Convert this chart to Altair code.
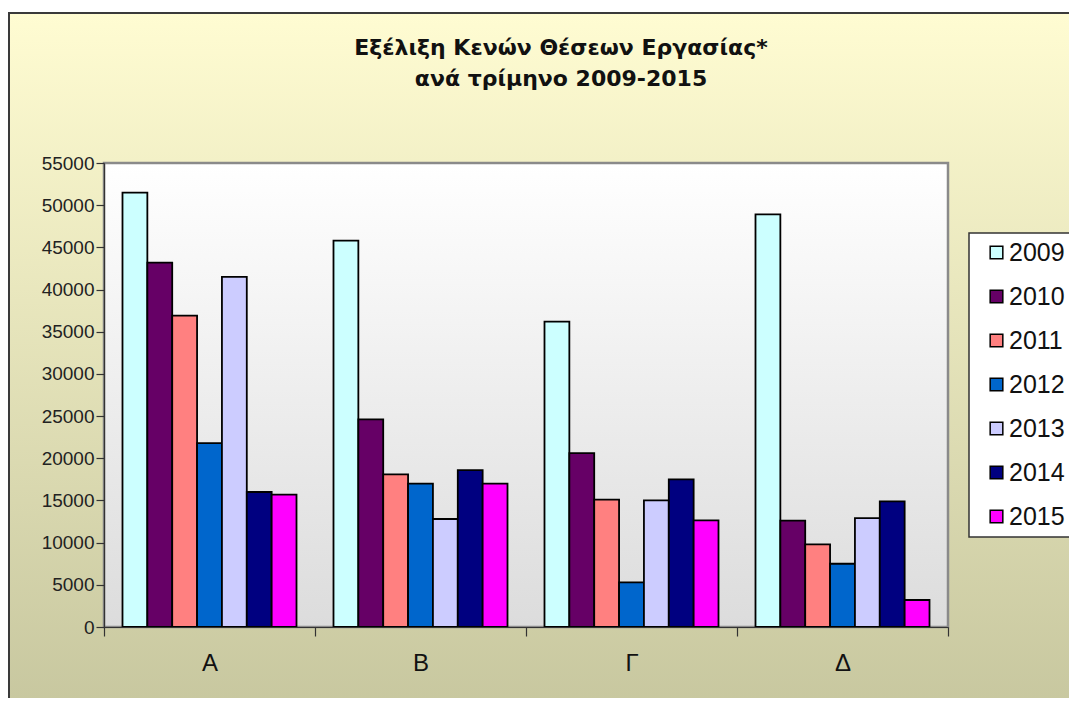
import altair as alt
import pandas as pd

quarters = ["Α", "Β", "Γ", "Δ"]
years = ["2009", "2010", "2011", "2012", "2013", "2014", "2015"]
colors = ["#CCFFFF", "#660066", "#FF8080", "#0066CC", "#CCCCFF", "#000080", "#FF00FF"]

vals_A = [51500, 43200, 36900, 21800, 41500, 16000, 15700]
vals_B = [45800, 24600, 18100, 17000, 12800, 18600, 17000]
vals_G = [36200, 20600, 15100, 5300, 15000, 17500, 12650]
vals_D = [48900, 12600, 9800, 7500, 12900, 14900, 3200]

y_ticks = [0, 5000, 10000, 15000, 20000, 25000, 30000, 35000, 40000, 45000, 50000, 55000]

title_lines = ["Εξέλιξη Κενών Θέσεων Εργασίας*", "ανά τρίμηνο 2009-2015"]

rows = []
for q, vals in zip(quarters, [vals_A, vals_B, vals_G, vals_D]):
    for yr, v in zip(years, vals):
        rows.append({"q": q, "year": yr, "value": v})
df = pd.DataFrame(rows)

FONT = "Liberation Sans"
TFONT = "DejaVu Sans"
W, H = 844, 464

one = alt.Data(values=[{}])

outer_bg = alt.Chart(one).mark_rect(
    fill={"gradient": "linear", "x1": 0, "y1": 0, "x2": 0, "y2": 1,
          "stops": [{"offset": 0, "color": "#FFFCD2"}, {"offset": 1, "color": "#C3C39B"}]},
    stroke="#3a3a3a", strokeWidth=2,
).encode(x=alt.value(-95), x2=alt.value(1000), y=alt.value(-150), y2=alt.value(600))

plot_bg = alt.Chart(one).mark_rect(
    fill={"gradient": "linear", "x1": 0, "y1": 0, "x2": 0, "y2": 1,
          "stops": [{"offset": 0, "color": "#FFFFFF"}, {"offset": 1, "color": "#DCDCDC"}]},
    stroke="#8a8a8a", strokeWidth=2.5,
).encode(x=alt.value(0), x2=alt.value("width"), y=alt.value(0), y2=alt.value("height"))

legend_box = alt.Chart(one).mark_rect(
    fill="white", stroke="#333", strokeWidth=1.5,
).encode(x=alt.value(865), x2=alt.value(1000), y=alt.value(70), y2=alt.value(374))

title1 = alt.Chart(one).mark_text(
    font=TFONT, fontSize=22, fontWeight="bold", color="#111", align="center", baseline="middle",
).encode(x=alt.value(457), y=alt.value(-115), text=alt.value(title_lines[0]))

title2 = alt.Chart(one).mark_text(
    font=TFONT, fontSize=22, fontWeight="bold", color="#111", align="center", baseline="middle",
).encode(x=alt.value(457), y=alt.value(-84), text=alt.value(title_lines[1]))

bars = alt.Chart(df).mark_bar(stroke="black", strokeWidth=1.8).encode(
    x=alt.X("q:N", sort=quarters,
            scale=alt.Scale(paddingInner=0, paddingOuter=0),
            axis=alt.Axis(title=None, labelAngle=0, tickBand="extent", tickSize=9,
                          labelFont=FONT, labelFontSize=24, labelColor="#111",
                          labelPadding=15, domainColor="#333", tickColor="#333",
                          domainWidth=1.2, tickWidth=1.2, zindex=1)),
    xOffset=alt.XOffset("year:N", sort=years, scale=alt.Scale(paddingInner=0, paddingOuter=0.744)),
    y=alt.Y("value:Q", scale=alt.Scale(domain=[0, 55000], nice=False),
            axis=alt.Axis(title=None, values=y_ticks, grid=False, tickSize=8, format="d",
                          labelFont=FONT, labelFontSize=19, labelColor="#222",
                          labelPadding=2, domainColor="#333", tickColor="#333",
                          domainWidth=1.2, tickWidth=1.2, zindex=1)),
    color=alt.Color("year:N", sort=years,
                    scale=alt.Scale(domain=years, range=colors),
                    legend=alt.Legend(title=None, orient="none", legendX=880, legendY=77,
                                      padding=0, strokeColor="transparent",
                                      symbolType="square", symbolSize=160,
                                      symbolStrokeColor="black", symbolStrokeWidth=1.5,
                                      labelFont=FONT, labelFontSize=25, labelColor="#111",
                                      labelOffset=0, rowPadding=18, zindex=1)),
)

chart = alt.layer(outer_bg, plot_bg, legend_box, title1, title2, bars).properties(
    width=W, height=H,
    autosize=alt.AutoSizeParams(type="none"),
    padding={"left": 96, "top": 155, "right": 121, "bottom": 71},
    background="white",
).configure_view(stroke=None)

chart.save("out.html", embed_options={"renderer": "svg", "actions": False})
